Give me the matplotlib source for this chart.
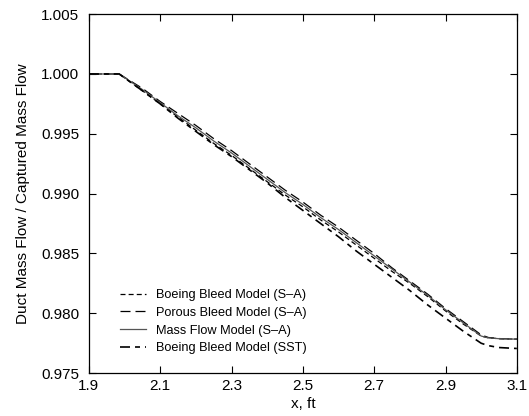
import matplotlib
matplotlib.use("Agg")
import matplotlib.pyplot as plt
import numpy as np

plt.rcParams['font.family'] = ['Liberation Sans', 'DejaVu Sans']

x = np.array([1.90, 1.985, 2.05, 2.10, 2.15, 2.20, 2.25, 2.30, 2.35, 2.40, 2.45,
              2.50, 2.55, 2.60, 2.65, 2.70, 2.75, 2.80, 2.85, 2.90, 2.95,
              3.00, 3.02, 3.05, 3.10])

mass_flow_sa = np.array([1.0000, 1.0000, 0.9987, 0.9976, 0.9965, 0.9955, 0.9944,
                         0.9934, 0.9923, 0.9912, 0.9901, 0.9891, 0.9880, 0.9870,
                         0.9859, 0.9848, 0.9837, 0.9826, 0.9815, 0.9803, 0.9792,
                         0.9781, 0.97795, 0.97788, 0.97784])

boeing_sa = np.array([1.0000, 1.0000, 0.9986, 0.9975, 0.9964, 0.9953, 0.9942,
                      0.9932, 0.9921, 0.9910, 0.9899, 0.9889, 0.9878, 0.9868,
                      0.9857, 0.9846, 0.9835, 0.9825, 0.9814, 0.9802, 0.9791,
                      0.9781, 0.97795, 0.97788, 0.97784])

porous_sa = np.array([1.0000, 1.0000, 0.9988, 0.9977, 0.9967, 0.9957, 0.9946,
                      0.9936, 0.9925, 0.9914, 0.9903, 0.9893, 0.9882, 0.9872,
                      0.9861, 0.9850, 0.9838, 0.9827, 0.9816, 0.9804, 0.9793,
                      0.9782, 0.97798, 0.97789, 0.97784])

boeing_sst = np.array([1.0000, 1.0000, 0.9986, 0.9975, 0.9963, 0.9952, 0.9941,
                       0.9931, 0.9920, 0.9909, 0.9897, 0.9886, 0.9875, 0.9864,
                       0.9852, 0.9841, 0.9830, 0.9819, 0.9807, 0.9796, 0.9785,
                       0.9775, 0.97730, 0.97714, 0.97706])

fig = plt.figure(figsize=(5.29, 4.16), dpi=100)
ax = fig.add_axes([0.168, 0.103, 0.809, 0.863])

ax.plot(x, boeing_sa, color='black', lw=0.9, ls=(0, (4, 2.5)), label='Boeing Bleed Model (S\u2013A)')
ax.plot(x, porous_sa, color='black', lw=0.9, ls=(0, (8, 4)), label='Porous Bleed Model (S\u2013A)')
ax.plot(x, mass_flow_sa, color='#555555', lw=0.9, ls='-', label='Mass Flow Model (S\u2013A)')
ax.plot(x, boeing_sst, color='black', lw=1.2, ls=(0, (6, 3, 3, 3)), label='Boeing Bleed Model (SST)')

ax.set_xlim(1.9, 3.1)
ax.set_ylim(0.975, 1.005)
ax.set_xticks(np.arange(1.9, 3.11, 0.2))
ax.set_yticks(np.arange(0.975, 1.0051, 0.005))
ax.xaxis.set_major_formatter(matplotlib.ticker.FormatStrFormatter('%.1f'))
ax.yaxis.set_major_formatter(matplotlib.ticker.FormatStrFormatter('%.3f'))
ax.tick_params(direction='in', top=True, right=True, length=5, width=0.8, labelsize=11)
ax.tick_params(axis='y', pad=7)
ax.tick_params(axis='x', pad=4)
for s in ax.spines.values():
    s.set_linewidth(0.9)

ax.set_xlabel('x, ft', fontsize=11, labelpad=3)
ax.set_ylabel('Duct Mass Flow / Captured Mass Flow', fontsize=11, labelpad=8)

ax.legend(loc='lower left', bbox_to_anchor=(0.047, 0.02), frameon=False, fontsize=9.2,
          handlelength=2.0, labelspacing=0.45, handletextpad=0.8)

fig.savefig('out.png', dpi=100)
